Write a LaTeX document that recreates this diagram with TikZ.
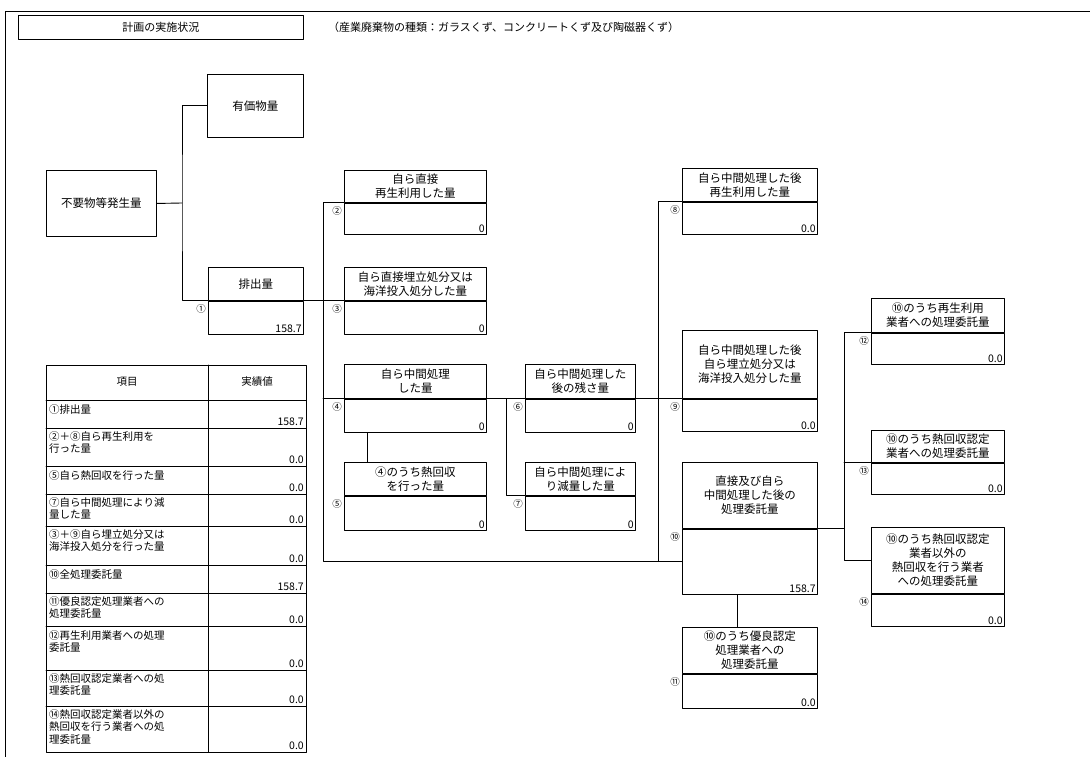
\documentclass[tikz,border=0pt]{standalone}
\usepackage{fontspec}
\setmainfont{Noto Sans CJK JP}

\begin{document}
\begin{tikzpicture}[line cap=round,line join=round,x=1pt,y=-1pt,
  ln/.style={line width=0.9pt},
  hd/.style={draw,line width=0.9pt,anchor=north west,inner sep=0pt,align=center,font=\fontsize{11.5}{14}\selectfont},
  vl/.style={draw,line width=0.9pt,anchor=north west,inner sep=0pt},
  num/.style={anchor=north east,inner sep=0pt,xshift=-2pt,yshift=-3pt,font=\fontsize{9.5}{9.5}\selectfont},
  amt/.style={anchor=south east,inner sep=2pt,font=\fontsize{10.5}{10.5}\selectfont},
  cell/.style={anchor=north west,inner sep=0pt,align=left,font=\fontsize{10.5}{12.5}\selectfont}]
\useasboundingbox (0,0) rectangle (1090,757);
\draw [ln] (5,757)-- (5,11)-- (1090,11);

% title
\node [hd,minimum width=285pt,minimum height=24pt,font=\fontsize{11}{13}\selectfont] (title) at (18,15) {計画の実施状況};
\node [anchor=west,inner sep=0pt,font=\fontsize{11}{13}\selectfont] (kind) at (328,27) {（産業廃棄物の種類：ガラスくず、コンクリートくず及び陶磁器くず）};

% source
\node [hd,minimum width=96pt,minimum height=63pt] (yuka) at (207,74) {有価物量};
\node [hd,minimum width=110pt,minimum height=66pt] (fuyo) at (46,170) {不要物等発生量};

% boxes: header h, value v, amount a, number n
\node [hd,minimum width=95pt,minimum height=33pt] (h1) at (208,267) {排出量};
\node [vl,minimum width=95pt,minimum height=33pt] (v1) at (h1.south west) {};
\node [amt] (a1) at (v1.south east) {158.7};
\node [num] (n1) at (v1.north west) {①};

\node [hd,minimum width=142pt,minimum height=32pt] (h2) at (344,170) {自ら直接\\再生利用した量};
\node [vl,minimum width=142pt,minimum height=31pt] (v2) at (h2.south west) {};
\node [amt] (a2) at (v2.south east) {0};
\node [num] (n2) at (v2.north west) {②};

\node [hd,minimum width=142pt,minimum height=33pt] (h3) at (344,267) {自ら直接埋立処分又は\\海洋投入処分した量};
\node [vl,minimum width=142pt,minimum height=33pt] (v3) at (h3.south west) {};
\node [amt] (a3) at (v3.south east) {0};
\node [num] (n3) at (v3.north west) {③};

\node [hd,minimum width=142pt,minimum height=34pt] (h4) at (344,364) {自ら中間処理\\した量};
\node [vl,minimum width=142pt,minimum height=33pt] (v4) at (h4.south west) {};
\node [amt] (a4) at (v4.south east) {0};
\node [num] (n4) at (v4.north west) {④};

\node [hd,minimum width=142pt,minimum height=33pt] (h5) at (344,462) {④のうち熱回収\\を行った量};
\node [vl,minimum width=142pt,minimum height=34pt] (v5) at (h5.south west) {};
\node [amt] (a5) at (v5.south east) {0};
\node [num] (n5) at (v5.north west) {⑤};

\node [hd,minimum width=110pt,minimum height=34pt] (h6) at (525,364) {自ら中間処理した\\後の残さ量};
\node [vl,minimum width=110pt,minimum height=33pt] (v6) at (h6.south west) {};
\node [amt] (a6) at (v6.south east) {0};
\node [num] (n6) at (v6.north west) {⑥};

\node [hd,minimum width=110pt,minimum height=33pt] (h7) at (525,462) {自ら中間処理によ\\り減量した量};
\node [vl,minimum width=110pt,minimum height=34pt] (v7) at (h7.south west) {};
\node [amt] (a7) at (v7.south east) {0};
\node [num] (n7) at (v7.north west) {⑦};

\node [hd,minimum width=135pt,minimum height=33pt] (h8) at (682,168) {自ら中間処理した後\\再生利用した量};
\node [vl,minimum width=135pt,minimum height=32pt] (v8) at (h8.south west) {};
\node [amt] (a8) at (v8.south east) {0.0};
\node [num] (n8) at (v8.north west) {⑧};

\node [hd,minimum width=135pt,minimum height=68pt] (h9) at (682,330) {自ら中間処理した後\\自ら埋立処分又は\\海洋投入処分した量};
\node [vl,minimum width=135pt,minimum height=32pt] (v9) at (h9.south west) {};
\node [amt] (a9) at (v9.south east) {0.0};
\node [num] (n9) at (v9.north west) {⑨};

\node [hd,minimum width=135pt,minimum height=66pt] (h10) at (682,462) {直接及び自ら\\中間処理した後の\\処理委託量};
\node [vl,minimum width=135pt,minimum height=65pt] (v10) at (h10.south west) {};
\node [amt] (a10) at (v10.south east) {158.7};
\node [num] (n10) at (v10.north west) {⑩};

\node [hd,minimum width=135pt,minimum height=46pt] (h11) at (682,627) {⑩のうち優良認定\\処理業者への\\処理委託量};
\node [vl,minimum width=135pt,minimum height=34pt] (v11) at (h11.south west) {};
\node [amt] (a11) at (v11.south east) {0.0};
\node [num] (n11) at (v11.north west) {⑪};

\node [hd,minimum width=133pt,minimum height=34pt] (h12) at (871,298) {⑩のうち再生利用\\業者への処理委託量};
\node [vl,minimum width=133pt,minimum height=31pt] (v12) at (h12.south west) {};
\node [amt] (a12) at (v12.south east) {0.0};
\node [num] (n12) at (v12.north west) {⑫};

\node [hd,minimum width=133pt,minimum height=32pt] (h13) at (871,430) {⑩のうち熱回収認定\\業者への処理委託量};
\node [vl,minimum width=133pt,minimum height=31pt] (v13) at (h13.south west) {};
\node [amt] (a13) at (v13.south east) {0.0};
\node [num] (n13) at (v13.north west) {⑬};

\node [hd,minimum width=133pt,minimum height=66pt] (h14) at (871,527) {⑩のうち熱回収認定\\業者以外の\\熱回収を行う業者\\への処理委託量};
\node [vl,minimum width=133pt,minimum height=32pt] (v14) at (h14.south west) {};
\node [amt] (a14) at (v14.south east) {0.0};
\node [num] (n14) at (v14.north west) {⑭};

% connectors
\coordinate (j0) at (182,203);
\coordinate (tA) at (323,561);
\coordinate (tB) at (658,561);
\coordinate (tC) at (844,560);
\draw [ln] (fuyo.east)-- (j0);
\draw [ln] (yuka.west) -| (j0) |- (h1.south west);
\draw [ln] (h1.south east)-- (h3.south west);
\draw [ln] (h2.south west) -| (tA)-- (tA -| v10.west);
\draw [ln] (tA |- h4.south)-- (h9.south west);
\draw [ln] ([xshift=23pt]v4.south west)-- ([xshift=23pt]h5.north west);
\draw [ln] ([xshift=-19pt]h6.south west) |- (h7.south west);
\draw [ln] (h8.south west) -| (tB);
\draw [ln] (h10.south east)-- (h10.south east -| tC);
\draw [ln] (h12.south west) -| (tC)-- (tC -| h14.west);
\draw [ln] (h13.south west)-- (h13.south west -| tC);
\draw [ln] ([xshift=55pt]v10.south west)-- ([xshift=55pt]h11.north west);

% table
\draw [ln] (46,365) rectangle (306,752);
\draw [ln] (208,365)-- (208,752);
\foreach \y in {400,428,466,494,526,565,593,626,670,706}
  \draw [ln] (46,\y)-- (306,\y);
\node [font=\fontsize{10.5}{12.5}\selectfont] (t0) at (127,382) {項目};
\node [font=\fontsize{10.5}{12.5}\selectfont] (u0) at (257,382) {実績値};
\node [cell] (t1) at (49,404) {①排出量}; \node [amt] (u1) at (306,428) {158.7};
\node [cell] (t2) at (49,431) {②＋⑧自ら再生利用を\\行った量}; \node [amt] (u2) at (306,466) {0.0};
\node [cell] (t3) at (49,470) {⑤自ら熱回収を行った量}; \node [amt] (u3) at (306,494) {0.0};
\node [cell] (t4) at (49,497) {⑦自ら中間処理により減\\量した量}; \node [amt] (u4) at (306,526) {0.0};
\node [cell] (t5) at (49,529) {③＋⑨自ら埋立処分又は\\海洋投入処分を行った量}; \node [amt] (u5) at (306,565) {0.0};
\node [cell] (t6) at (49,569) {⑩全処理委託量}; \node [amt] (u6) at (306,593) {158.7};
\node [cell] (t7) at (49,596) {⑪優良認定処理業者への\\処理委託量}; \node [amt] (u7) at (306,626) {0.0};
\node [cell] (t8) at (49,630) {⑫再生利用業者への処理\\委託量}; \node [amt] (u8) at (306,670) {0.0};
\node [cell] (t9) at (49,673) {⑬熱回収認定業者への処\\理委託量}; \node [amt] (u9) at (306,706) {0.0};
\node [cell] (t10) at (49,709) {⑭熱回収認定業者以外の\\熱回収を行う業者への処\\理委託量}; \node [amt] (u10) at (306,752) {0.0};
\end{tikzpicture}
\end{document}
